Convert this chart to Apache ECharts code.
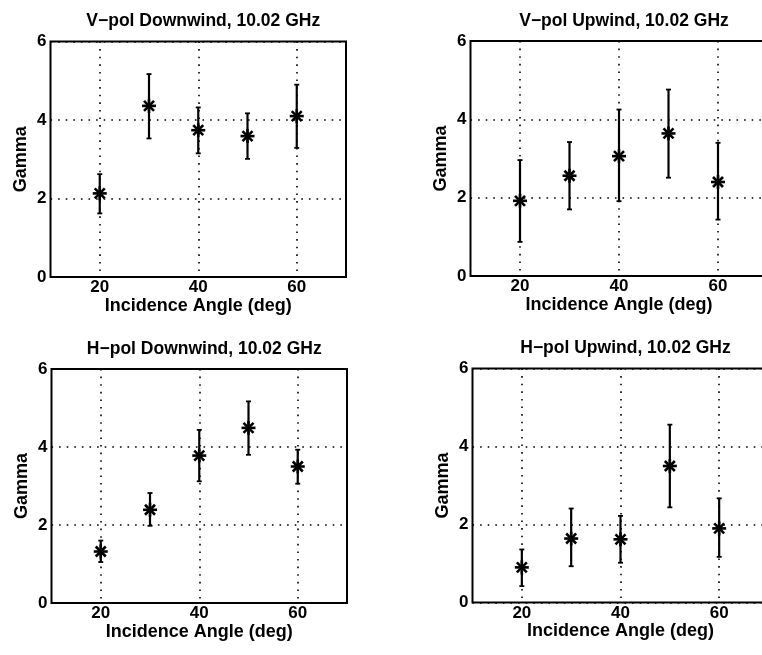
<!DOCTYPE html>
<html>
<head>
<meta charset="utf-8">
<script src="https://cdn.jsdelivr.net/npm/echarts@6/dist/echarts.min.js"></script>
<style>
html,body{margin:0;padding:0;background:#fff;}
#chart{width:762px;height:655px;}
</style>
</head>
<body>
<div id="chart"></div>
<script>
// Incidence angles (deg)
const angles = [20, 30, 40, 50, 60];
const yTicks = [0, 2, 4, 6];
const xTickLabels = [20, 40, 60];

const titles = [
  'V\u2212pol Downwind, 10.02 GHz',
  'V\u2212pol Upwind, 10.02 GHz',
  'H\u2212pol Downwind, 10.02 GHz',
  'H\u2212pol Upwind, 10.02 GHz'
];

// V-pol Downwind
const vDownMid  = [2.13, 4.36, 3.74, 3.59, 4.10];
const vDownLow  = [1.62, 3.53, 3.15, 3.01, 3.29];
const vDownHigh = [2.62, 5.17, 4.32, 4.17, 4.90];
// V-pol Upwind
const vUpMid  = [1.92, 2.56, 3.06, 3.64, 2.40];
const vUpLow  = [0.87, 1.70, 1.91, 2.51, 1.44];
const vUpHigh = [2.96, 3.42, 4.25, 4.76, 3.40];
// H-pol Downwind
const hDownMid  = [1.32, 2.39, 3.78, 4.49, 3.50];
const hDownLow  = [1.05, 1.98, 3.12, 3.80, 3.06];
const hDownHigh = [1.60, 2.82, 4.44, 5.17, 3.93];
// H-pol Upwind
const hUpMid  = [0.90, 1.64, 1.62, 3.50, 1.90];
const hUpLow  = [0.42, 0.93, 1.02, 2.44, 1.17];
const hUpHigh = [1.36, 2.41, 2.22, 4.56, 2.67];

const panels = [
  [vDownMid, vDownLow, vDownHigh],
  [vUpMid, vUpLow, vUpHigh],
  [hDownMid, hDownLow, hDownHigh],
  [hUpMid, hUpLow, hUpHigh]
];

const gridPos = [
  {left: 50.5, top: 41.5, width: 295.5, height: 235.5},
  {left: 470.5, top: 41, width: 297, height: 235},
  {left: 51.5, top: 369, width: 295.5, height: 234},
  {left: 472.5, top: 368.5, width: 296, height: 234}
];

const FONT = '"Liberation Sans", Arial, Helvetica, sans-serif';
const dotted = [1.6, 6];

function renderItem(params, api) {
  const x = api.value(0);
  const c = api.coord([x, api.value(1)]);
  const lo = api.coord([x, api.value(2)]);
  const hi = api.coord([x, api.value(3)]);
  const s = 7, d = 5, cap = 2.5;
  const L = (x1, y1, x2, y2, w) => ({type: 'line', shape: {x1, y1, x2, y2}, style: {stroke: '#000', lineWidth: w || 2}});
  return {
    type: 'group',
    children: [
      L(c[0], lo[1], c[0], hi[1], 2.2),
      L(c[0] - cap, lo[1], c[0] + cap, lo[1], 1.8),
      L(c[0] - cap, hi[1], c[0] + cap, hi[1], 1.8),
      L(c[0], c[1] - s, c[0], c[1] + s, 2.6),
      L(c[0] - s, c[1], c[0] + s, c[1], 2.6),
      L(c[0] - d, c[1] - d, c[0] + d, c[1] + d, 2.6),
      L(c[0] - d, c[1] + d, c[0] + d, c[1] - d, 2.6)
    ]
  };
}

const grids = [], xAxes = [], yAxes = [], series = [], titleOpts = [];
gridPos.forEach((g, i) => {
  grids.push(Object.assign({show: true, borderColor: '#000', borderWidth: 2, backgroundColor: 'transparent', containLabel: false, outerBoundsMode: 'none'}, g));
  titleOpts.push({
    text: titles[i],
    left: g.left + g.width / 2,
    top: g.top - 34,
    textAlign: 'center',
    textStyle: {fontFamily: FONT, fontSize: 17.5, fontWeight: 'bold', color: '#000'}
  });
  xAxes.push({
    type: 'value', gridIndex: i, min: 10, max: 70, interval: 10,
    name: 'Incidence Angle (deg)', nameLocation: 'middle', nameGap: 15,
    nameTextStyle: {fontFamily: FONT, fontSize: 18, fontWeight: 'bold', color: '#000', verticalAlign: 'top'},
    axisLine: {show: false},
    axisTick: {show: false},
    axisLabel: {
      color: '#000', fontFamily: FONT, fontSize: 17, fontWeight: 'bold', margin: 2,
      formatter: v => xTickLabels.indexOf(v) >= 0 ? String(v) : ''
    },
    splitLine: {show: true, lineStyle: {color: ['rgba(0,0,0,0)', '#000'], type: dotted, width: 1.6}}
  });
  yAxes.push({
    type: 'value', gridIndex: i, min: yTicks[0], max: yTicks[yTicks.length - 1], interval: 2,
    name: 'Gamma', nameLocation: 'middle', nameGap: 20, nameRotate: 90,
    nameTextStyle: {fontFamily: FONT, fontSize: 18, fontWeight: 'bold', color: '#000'},
    axisLine: {show: false},
    axisTick: {show: false},
    axisLabel: {color: '#000', fontFamily: FONT, fontSize: 17, fontWeight: 'bold', margin: 4},
    splitLine: {show: true, lineStyle: {color: '#000', type: dotted, width: 1.6}}
  });
  const p = panels[i];
  series.push({
    type: 'custom', xAxisIndex: i, yAxisIndex: i,
    renderItem: renderItem,
    encode: {x: 0, y: [1, 2, 3]},
    data: angles.map((a, k) => [a, p[0][k], p[1][k], p[2][k]]),
    clip: false,
    z: 10
  });
});

const chart = echarts.init(document.getElementById('chart'), null, {renderer: 'canvas'});
chart.setOption({
  backgroundColor: '#fff',
  animation: false,
  title: titleOpts,
  grid: grids,
  xAxis: xAxes,
  yAxis: yAxes,
  series: series
});
</script>
</body>
</html>
